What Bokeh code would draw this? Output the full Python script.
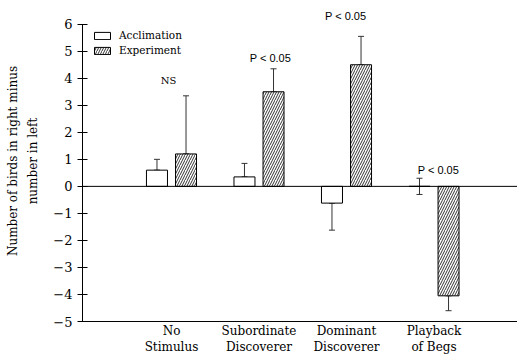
import numpy as np
from bokeh.plotting import figure
from bokeh.models import (ColumnDataSource, Whisker, TeeHead, Span, Legend,
                          LegendItem, FixedTicker, Range1d, LinearAxis)
from bokeh.core.properties import value
from bokeh.embed import file_html
from bokeh.resources import INLINE

# ---- data ----
categories = ["No\nStimulus", "Subordinate\nDiscoverer", "Dominant\nDiscoverer", "Playback\nof Begs"]
acclimation = [0.6, 0.35, -0.62, 0.0]
acclimation_err = [0.4, 0.5, 1.0, 0.3]
experiment = [1.2, 3.5, 4.5, -4.05]
experiment_err = [2.15, 0.85, 1.05, 0.55]
series_names = ["Acclimation", "Experiment"]
ann_text = ["NS", "P < 0.05", "P < 0.05", "P < 0.05"]
ann_x = [0.966, 2.13, 2.99, 4.05]
ann_y = [3.9, 4.75, 6.3, 0.6]
y_ticks = list(range(-5, 7))
y_label_lines = ["Number of birds in right minus", "number in left"]

SERIF = "DejaVu Serif"
SANS = "Liberation Sans"


def err_range(vals, errs):
    lo, hi = [], []
    for v, e in zip(vals, errs):
        if v > 0:
            lo.append(v); hi.append(v + e)
        elif v < 0:
            lo.append(v - e); hi.append(v)
        else:
            lo.append(-e); hi.append(e)
    return lo, hi


xs = np.arange(1, len(categories) + 1)
off = 0.166
bw = 0.24

a_lo, a_hi = err_range(acclimation, acclimation_err)
e_lo, e_hi = err_range(experiment, experiment_err)

src_a = ColumnDataSource(dict(x=xs - off, top=acclimation, lo=a_lo, hi=a_hi))
src_e = ColumnDataSource(dict(x=xs + off, top=experiment, lo=e_lo, hi=e_hi))

p = figure(width=517, height=357, output_backend="svg", toolbar_location=None,
           x_range=Range1d(-0.017, 4.954), y_range=Range1d(-5, 6.877),
           min_border_left=82, min_border_right=0, min_border_top=0,
           min_border_bottom=32)
p.background_fill_color = "white"
p.border_fill_color = "white"
p.outline_line_color = None
p.xgrid.visible = False
p.ygrid.visible = False

zero = Span(location=0, dimension="width", line_color="black", line_width=1)
p.add_layout(zero)

ra = p.vbar(x="x", top="top", bottom=0, width=bw, source=src_a,
            fill_color="white", line_color="black", line_width=1)
re = p.vbar(x="x", top="top", bottom=0, width=bw, source=src_e,
            fill_color="white", line_color="black", line_width=1,
            hatch_pattern="/", hatch_color="black", hatch_scale=5, hatch_weight=0.8)

for src in (src_a, src_e):
    w = Whisker(source=src, base="x", lower="lo", upper="hi",
                line_color="#333333", line_width=1,
                upper_head=TeeHead(size=6, line_width=1, line_color="#333333"),
                lower_head=TeeHead(size=6, line_width=1, line_color="#333333"))
    p.add_layout(w)

p.text(x=ann_x[:1], y=ann_y[:1], text=ann_text[:1], text_font=value(SERIF),
       text_font_size="10px", text_align="center", text_baseline="middle", text_color="black")
p.text(x=ann_x[1:], y=ann_y[1:], text=ann_text[1:], text_font=value(SANS),
       text_font_size="11px", text_align="center", text_baseline="middle", text_color="black")

# one legend per series so the row pitch matches the original
for name, rend, loc in zip(series_names, [ra, re], [(10, 280), (10, 265)]):
    lg = Legend(items=[LegendItem(label=name, renderers=[rend])],
                location=loc, padding=0, margin=0, spacing=0,
                glyph_width=20, glyph_height=9, label_height=9, label_standoff=7,
                label_text_font=SERIF, label_text_font_size="10.5px",
                label_text_color="black",
                border_line_color=None, background_fill_alpha=0)
    p.add_layout(lg)

# y axis (inner: ticks + second label line)
yax = p.yaxis[0]
yax.ticker = FixedTicker(ticks=y_ticks)
yax.bounds = (-5, 6)
yax.major_label_overrides = {t: str(t).replace("-", "\u2212") for t in y_ticks}
yax.major_tick_in = 5
yax.major_tick_out = 5
yax.minor_tick_line_color = None
yax.axis_line_color = "black"
yax.major_tick_line_color = "black"
yax.major_label_text_font = SERIF
yax.major_label_text_font_size = "13px"
yax.major_label_text_color = "black"
yax.major_label_standoff = 5
yax.axis_label = y_label_lines[1]
yax.axis_label_text_font = SERIF
yax.axis_label_text_font_style = "normal"
yax.axis_label_text_font_size = "12px"
yax.axis_label_text_color = "black"
yax.axis_label_standoff = 10

# outer axis carrying the first label line only
yax2 = LinearAxis(ticker=FixedTicker(ticks=[]), axis_line_color=None,
                  major_tick_line_color=None, minor_tick_line_color=None,
                  axis_label=y_label_lines[0], axis_label_text_font=SERIF,
                  axis_label_text_font_style="normal", axis_label_text_font_size="12px",
                  axis_label_text_color="black", axis_label_standoff=4)
p.add_layout(yax2, "left")

# x axis
xax = p.xaxis[0]
xax.ticker = FixedTicker(ticks=list(xs))
xax.major_label_overrides = {int(i): c for i, c in zip(xs, categories)}
xax.major_tick_in = 0
xax.major_tick_out = 0
xax.minor_tick_line_color = None
xax.axis_line_color = "black"
xax.major_label_text_font = SERIF
xax.major_label_text_font_size = "12px"
xax.major_label_text_color = "black"
xax.major_label_standoff = 2

open("out.html", "w").write(file_html(p, INLINE))
